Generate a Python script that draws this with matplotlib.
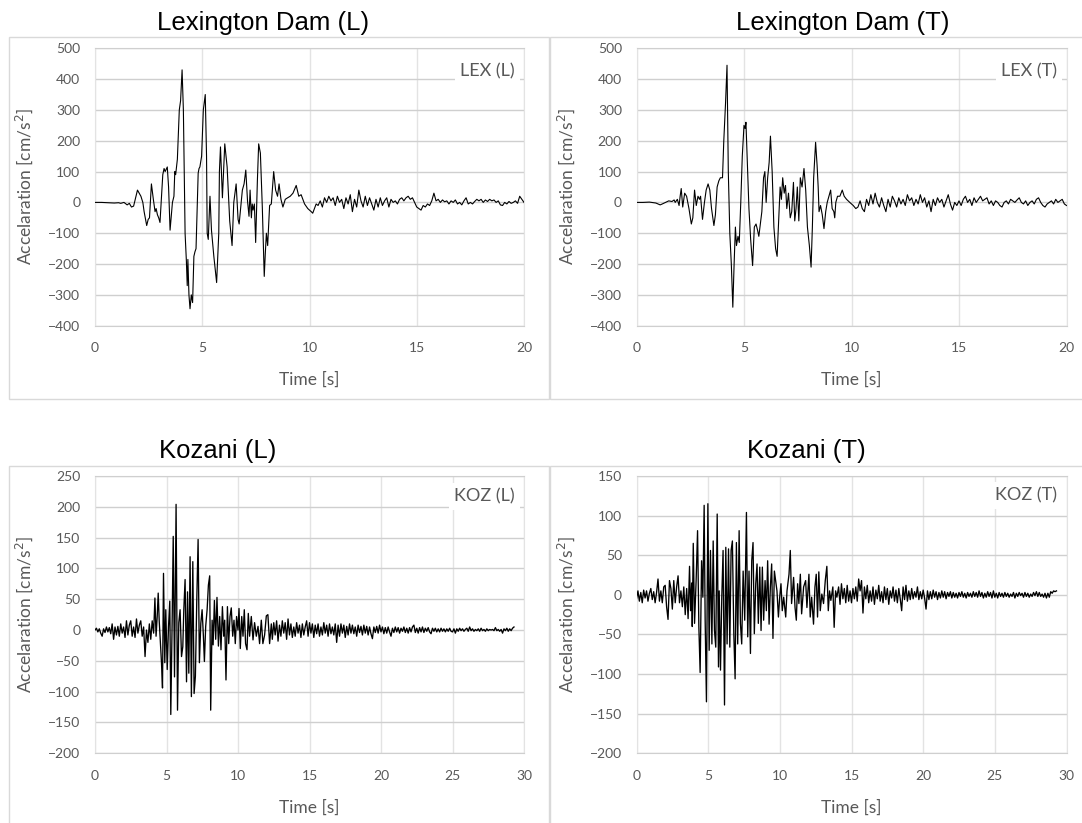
import numpy as np
import matplotlib.pyplot as plt
from matplotlib.patches import Rectangle

plt.rcParams['font.family'] = ['Lato', 'DejaVu Sans']

# ---- Lexington Dam (L): read-off points [s], [cm/s2]
lex_l_t = [0.0, 0.3, 0.6, 0.9, 1.1, 1.2, 1.35, 1.5, 1.6, 1.7, 1.8,
           1.98, 2.06, 2.14, 2.23, 2.29, 2.41, 2.48, 2.54, 2.63, 2.72, 2.8, 2.85, 2.91, 2.97,
           3.03, 3.1, 3.16, 3.22, 3.27, 3.37, 3.43, 3.5, 3.56, 3.61, 3.68, 3.72, 3.76, 3.84,
           3.93, 3.99, 4.06, 4.12, 4.2, 4.26, 4.3, 4.33, 4.38, 4.43, 4.49, 4.55, 4.61, 4.66,
           4.71, 4.81, 4.85, 4.89, 4.97, 5.05, 5.14, 5.2, 5.23, 5.28, 5.36, 5.43, 5.54, 5.67,
           5.77, 5.8, 5.85, 5.94, 6.05, 6.16, 6.28, 6.39, 6.47, 6.58, 6.67, 6.72, 6.78, 6.87,
           6.95, 7.03, 7.11, 7.18, 7.23, 7.29, 7.33, 7.37, 7.43, 7.49, 7.57, 7.63, 7.71, 7.8,
           7.89, 7.94, 7.99, 8.05, 8.14, 8.22, 8.33, 8.42, 8.51, 8.58, 8.67, 8.76, 8.87, 8.98,
           9.1, 9.23, 9.38, 9.5, 9.61, 9.77, 9.92, 10.08, 10.15, 10.31]
lex_l_a = [0, 0, -1, -2, -1, -3, 0, -8, -3, -15, -12,
           40, 30, 20, 0, -30, -75, -55, -50, 60, 10, -30, -20, -40, -50,
           -65, 20, 90, 110, 100, 115, 50, -90, -40, 0, 20, 100, 90, 140,
           300, 330, 430, 300, -100, -190, -270, -185, -300, -345, -300, -325, -175, -160,
           -150, 95, 110, 115, 150, 300, 350, 150, -100, -120, 20, -90, -175, -260,
           -100, 100, 180, 15, 190, 115, -60, -140, 0, 60, -55, -70, -25, 40,
           60, 105, 5, -45, 40, -50, -5, -25, -5, -130, 70, 190, 160, -15,
           -240, -165, -100, -140, -10, -5, 100, 40, 20, 60, 10, -15, 10, 15,
           20, 30, 55, 20, 25, -5, -20, -30, -35, -5]
lex_l_tail = [-10, 5, -15, 15, 0, 20, 5, 15, -10, 20, 0, 10, -20, 15, -5, 25, -30, 10, -15, 40,
              5, -15, 20, -10, 15, -5, -25, 10, -15, 15, -10, 5, 15, -15, 10, 0, 5, -5, 10, 15,
              5, 15, 20, 10, 15, 0, -15, -20, -25, -10, -15, -5, -10, 5, 30, 5, 10, 0, 8, 2,
              5, -5, 5, 0, 8, -5, 0, -8, 5, 15, -5, 0, -5, 3, 10, 5, 10, 0, 8, 3,
              10, 5, 8, 0, 5, -8, -10, 0, -5, 3, -3, 0, 5, -3, 20, 10, 0]  # from 10.4 s, every 0.1 s

# ---- Lexington Dam (T)
lex_t_t = [0.0, 0.3, 0.6, 0.9, 1.0, 1.1, 1.2, 1.35, 1.5, 1.65, 1.75, 1.8,
           1.9, 1.98, 2.03, 2.08, 2.15, 2.24, 2.33, 2.44, 2.55, 2.62, 2.7, 2.78, 2.86, 2.93,
           2.98, 3.07, 3.16, 3.24, 3.33, 3.41, 3.49, 3.6, 3.67, 3.75, 3.83, 3.9, 4.0, 4.06,
           4.14, 4.21, 4.27, 4.34, 4.41, 4.48, 4.54, 4.6, 4.65, 4.72, 4.78, 4.85, 4.92, 5.0,
           5.05, 5.09, 5.17, 5.23, 5.31, 5.4, 5.48, 5.56, 5.63, 5.69, 5.76, 5.83, 5.91, 5.97,
           6.03, 6.1, 6.17, 6.23, 6.31, 6.39, 6.47, 6.54, 6.62, 6.68, 6.74, 6.8, 6.87, 6.93,
           6.99, 7.07, 7.15, 7.22, 7.3, 7.36, 7.42, 7.48, 7.55, 7.62, 7.7, 7.79, 7.87, 7.95,
           8.04, 8.12, 8.18, 8.24, 8.33, 8.4, 8.45, 8.49, 8.56, 8.64, 8.72, 8.8, 8.87, 8.95,
           9.03, 9.1, 9.18, 9.22, 9.27, 9.35, 9.46, 9.57, 9.66, 9.77, 9.92, 10.08, 10.2]
lex_t_a = [0, 0, 1, -2, -5, -8, -5, 0, 5, 3, 8, 0,
           10, -10, 20, 45, -15, 30, 20, -20, -70, -50, 40, -10, 20, 10,
           20, -55, 0, 40, 60, 40, -20, -75, -40, 50, 70, 80, 80, 200,
           320, 445, 100, -100, -200, -340, -200, -80, -140, -110, -130, 0, 150, 250,
           240, 260, 100, -20, -120, -205, -80, -70, -90, -110, -70, -30, 80, 100,
           0, 80, 130, 215, 100, -80, -150, -175, -50, 50, 10, 80, 30, 55,
           -20, 30, -50, -30, 65, -60, -20, 50, -60, 80, 50, 110, 40, -80,
           -140, -210, -80, 80, 195, 120, 50, -30, -10, -40, -85, -30, 0, 20,
           40, -20, -30, -50, 0, 20, 20, 40, 20, 10, 0, -10, -20]
lex_t_tail = [-15, 5, -20, -30, 10, -10, 25, -5, 30, 0, -15, 15, -10, -30, 10, -15, 20, 5, -15, 15,
              -5, 10, -10, 25, 5, 15, -10, 10, -5, 25, 0, 15, -15, 5, -30, 10, -10, 15, 0, 10,
              -15, 5, 25, -5, -25, 0, -10, 5, -10, 10, 20, 0, 10, -10, 15, 0, 10, 20, 5, 10,
              15, -5, 5, -10, 5, 0, -10, -15, 0, 5, -5, 10, 5, 0, 8, 15, 0, -5, 5, -10,
              0, 5, -5, 10, 15, 0, -10, -15, -5, 0, 5, -5, 10, 0, 5, 10, -5, -10]  # from 10.3 s

# ---- Kozani (L)
koz_l_pre = [0, 3, -3, 2, -5, -10, 2, -4, 5, -3, 4, -6, 10, -15, 5, -8, 6, -10, 10, -5,
             5, -12, 15, -8, 8, 15, -10, 5, -12, 18, -5, 8, 15, -10, 5, -43, 0, -20, 10, -15,
             15, -5]  # from 0 s, every 0.1 s
koz_l_t = [4.19, 4.27, 4.35, 4.42, 4.49, 4.57, 4.65, 4.72, 4.79, 4.84, 4.88, 4.95, 5.05, 5.14,
           5.23, 5.3, 5.4, 5.47, 5.56, 5.67, 5.77, 5.86, 5.95, 6.05, 6.14, 6.21, 6.3, 6.4,
           6.47, 6.56, 6.65, 6.74, 6.84, 6.93, 7.02, 7.12, 7.21, 7.3, 7.4, 7.49, 7.58, 7.65,
           7.74, 7.84, 7.93, 8.02, 8.09, 8.19, 8.26, 8.35, 8.44, 8.53, 8.63, 8.72, 8.81, 8.91,
           9.0, 9.07, 9.16, 9.26, 9.35, 9.44, 9.53, 9.63, 9.72, 9.81, 9.9, 10.0, 10.07, 10.16,
           10.26, 10.35, 10.44, 10.53, 10.63, 10.72, 10.81, 10.93, 11.05, 11.16, 11.28, 11.4,
           11.51, 11.63, 11.74, 11.86, 11.98, 12.09, 12.21, 12.33]
koz_l_a = [52, -10, 22, 60, 15, -20, -53, -94, 92, 10, -53, 33, -64, 5,
           47, -137, 22, 152, -76, 204, -130, 12, 33, -43, -27, 33, 82, -84,
           62, -70, 119, -108, 111, -103, -75, 52, 147, -53, 11, 33, -10, -51,
           6, 33, 73, 88, -130, 16, -24, 48, -15, 53, -26, 22, -32, 38,
           -10, 16, -81, 38, -22, 22, 36, -10, 16, -22, 22, 0, 35, -30,
           22, -10, 33, -22, -32, 27, -10, 22, -16, 12, -10, 6,
           -22, 16, -22, -8, 23, 25, -22, 10]
koz_l_tail = [-15, 12, -8, 15, -18, 8, -10, 15, -5, 12, -15, 18, -8, 10, -12, 5, -10, 12, -5, 8,
              -12, 10, -8, 5, 15, -10, 12, -5, 10, -12, 8, -6, 10, -10, 5, -8, 12, -5, 8, -10,
              10, -6, 5, -8, 10, -20, 8, -10, 10, -5, 8, -12, 6, -8, 10, -5, 8, -6, 5, -10,
              8, -4, 6, -8, 8, -5, 6, -8, 5, -6, -14, 5, -4, 6, -5, 8, -3, 5, -6, 4,
              -5, 5, -3, -10, 3, -4, 5, -3, 4, -5, 3, -2, 5, -4, 3, -5, 4, -3, 5, 8,
              -4, 3, -5, 4, -3, 5, -4, 3, -2, 4, -3, -6, 3, -2, 3, -3, 2, -3, 3, -2,
              2, -3, 2, -2, 3, -2, -3, 2, -5, 2, -2, 3, -1, 2, -2, 1, 3, -2, 5, -1,
              2, -2, 1, -1, 2, -2, 3, -1, 1, -2, 2, -1, 1, 0, 1, -1, 4, -1, 1, -2,
              1, -5, 2, -1, 3, -2, 2, -1, 3, 5]  # from 12.4 s

# ---- Kozani (T)
koz_t_pre = [-5, 5, -8, 3, -10, 6, -4, 5, -8, 2, 8, -6, 4, -10, 3, 20, -8, 5, -10, 10,
             12, -15, -31, 18, 8, -18, 18, -10, 10, 24, -10, 5, -15, 10, -25, 8, -30, 36]  # from 0 s
koz_t_t = [3.77, 3.85, 3.89, 3.96, 4.05, 4.16, 4.26, 4.35, 4.44, 4.54, 4.63, 4.72, 4.79, 4.88,
           4.98, 5.07, 5.16, 5.26, 5.35, 5.44, 5.53, 5.63, 5.72, 5.77, 5.86, 5.95, 6.04, 6.14,
           6.23, 6.32, 6.42, 6.51, 6.6, 6.69, 6.79, 6.88, 6.97, 7.06, 7.16, 7.25, 7.34, 7.44,
           7.55, 7.67, 7.76, 7.85, 7.95, 8.04, 8.13, 8.22, 8.32, 8.41, 8.5, 8.6, 8.69, 8.78,
           8.87, 8.97, 9.06, 9.15, 9.25, 9.34, 9.43, 9.52, 9.62, 9.71, 9.8, 9.9, 9.99, 10.08,
           10.17, 10.27, 10.41, 10.5, 10.64, 10.73, 10.82, 10.96, 11.06, 11.15, 11.24, 11.33,
           11.43, 11.52, 11.66, 11.8, 11.89, 12.03, 12.12, 12.22, 12.35, 12.45, 12.54, 12.63,
           12.72, 12.82, 12.93, 13.05, 13.17, 13.28, 13.38, 13.47, 13.56, 13.7, 13.79, 13.89,
           13.98]
koz_t_a = [-20, 15, -40, 65, -36, 18, 81, -40, -98, 43, -3, 113, -32, -135,
           115, -70, 56, -62, 68, -45, -66, 102, -91, 5, -95, -3, 56, -139,
           60, -62, 58, -66, 56, 68, -50, -106, 66, -62, 81, -36, -62, 30,
           -32, 104, -53, 30, -74, 43, 66, -49, 14, 39, -36, 35, -45, 35,
           -32, 18, -20, 43, -37, 10, 39, -55, 30, 18, 5, -28, -3, 14,
           -20, -3, -28, 5, 26, 56, -11, 22, -16, -32, 14, -11,
           26, -24, 10, 18, -16, 26, -28, -3, -37, 10, 26, -28,
           29, -20, 1, -11, 18, 36, -20, 5, -7, 10, -41, 5,
           -3]
koz_t_tail = [10, -12, 14, -5, 8, -10, 12, -8, 5, -10, 8, -5, 10, -8, 20, 5, 18, -23, 10, -5,
              12, -10, 5, -8, 10, -12, 6, -5, 12, -8, 4, -10, 10, -6, 8, -12, 5, -4, 10, -8,
              6, -10, 8, -5, -20, 10, -6, 12, -8, 5, -6, 8, -5, 4, -3, 10, -6, 4, -5, 6,
              -4, -18, 5, -6, 4, -5, 6, -3, 4, -6, 3, -4, 5, -3, 4, -5, 3, -2, 4, -4,
              3, -3, 2, -4, 3, -2, 4, -3, 2, -4, 3, -2, 2, -3, 4, -2, 3, -3, 5, -2,
              3, -4, 2, -3, 4, -2, 3, -4, 5, -3, 2, -4, 3, -2, 2, -3, 3, -2, 2, -3,
              1, -2, 3, -4, 2, -2, 3, -1, 2, -3, 3, -2, 2, -3, 1, -2, 3, -1, 4, -2,
              3, -2, 1, -3, 2, -4, 2, -3, 4, 2, 5, 4, 5]  # from 14.1 s


def sampled(t0, vals, dt=0.1):
    return t0 + dt * np.arange(len(vals)), np.array(vals, dtype=float)


def join(*parts):
    t = np.concatenate([np.asarray(p[0], dtype=float) for p in parts])
    a = np.concatenate([np.asarray(p[1], dtype=float) for p in parts])
    return t, a


series = [
    dict(title='Lexington Dam (L)', tag='LEX (L)',
         data=join((lex_l_t, lex_l_a), sampled(10.4, lex_l_tail)),
         xmax=20, ylim=(-400, 500), ystep=100, lw=0.8),
    dict(title='Lexington Dam (T)', tag='LEX (T)',
         data=join((lex_t_t, lex_t_a), sampled(10.3, lex_t_tail)),
         xmax=20, ylim=(-400, 500), ystep=100, lw=0.8),
    dict(title='Kozani (L)', tag='KOZ (L)',
         data=join(sampled(0.0, koz_l_pre), (koz_l_t, koz_l_a), sampled(12.4, koz_l_tail)),
         xmax=30, ylim=(-200, 250), ystep=50, lw=0.95),
    dict(title='Kozani (T)', tag='KOZ (T)',
         data=join(sampled(0.0, koz_t_pre), (koz_t_t, koz_t_a), sampled(14.1, koz_t_tail)),
         xmax=30, ylim=(-200, 150), ystep=50, lw=0.95),
]

W, H = 1082, 823
fig = plt.figure(figsize=(W / 100, H / 100), dpi=100)

# pixel layout: plot areas, chart boxes, titles
plots = [(95, 48.3, 524, 325.7), (636.5, 48.3, 1066.5, 325.7),
         (95, 476, 524, 753.3), (636.5, 476, 1066.5, 753.3)]
boxes = [(8.5, 37.5, 548.5, 398.5), (549.5, 37.5, 1090, 398.5),
         (8.5, 466, 548.5, 840), (549.5, 466, 1090, 840)]
title_xy = [(263, 23), (843, 23), (218, 451), (806, 451)]
tag_y = [0.916, 0.916, 0.925, 0.931]

grey = '#595959'
for s, (x0, y0, x1, y1), (bx0, by0, bx1, by1), (tx, ty), tgy in zip(series, plots, boxes, title_xy, tag_y):
    fig.add_artist(Rectangle((bx0 / W, 1 - by1 / H), (bx1 - bx0) / W, (by1 - by0) / H,
                             transform=fig.transFigure, fill=False, ec='#d9d9d9', lw=1))
    ax = fig.add_axes([x0 / W, 1 - y1 / H, (x1 - x0) / W, (y1 - y0) / H])
    t, a = s['data']
    ax.plot(t, a, color='black', lw=s['lw'], zorder=3)
    ax.set_xlim(0, s['xmax'])
    ax.set_ylim(*s['ylim'])
    ax.set_xticks(np.arange(0, s['xmax'] + 1, 5))
    ax.set_yticks(np.arange(s['ylim'][0], s['ylim'][1] + 1, s['ystep']))
    ax.grid(axis='y', color='#cfcfcf', lw=1)
    ax.grid(axis='x', color='#e3e3e3', lw=1)
    ax.set_axisbelow(True)
    for side in ['left', 'right']:
        ax.spines[side].set_color('#e3e3e3')
    for side in ['top', 'bottom']:
        ax.spines[side].set_color('#cfcfcf')
    ax.tick_params(length=0, labelsize=10, labelcolor=grey)
    ax.tick_params(axis='y', pad=10.5)
    ax.tick_params(axis='x', pad=12)
    ax.set_xlabel('Time [s]', fontsize=12.5, color=grey)
    ax.set_ylabel('Accelaration [cm/s$^2$]', fontsize=12.5, color=grey)
    ax.xaxis.set_label_coords(0.5, -0.167)
    ax.yaxis.set_label_coords(-0.139, 0.5)
    ax.text(0.978, tgy, s['tag'], transform=ax.transAxes, ha='right', va='center',
            fontsize=13, color=grey, zorder=4,
            bbox=dict(boxstyle='square,pad=0.3', fc='white', ec='none'))
    fig.text(tx / W, 1 - ty / H, s['title'], ha='center', va='center',
             fontsize=18.5, family='Liberation Sans', color='black')

fig.savefig('out.png', dpi=100)
